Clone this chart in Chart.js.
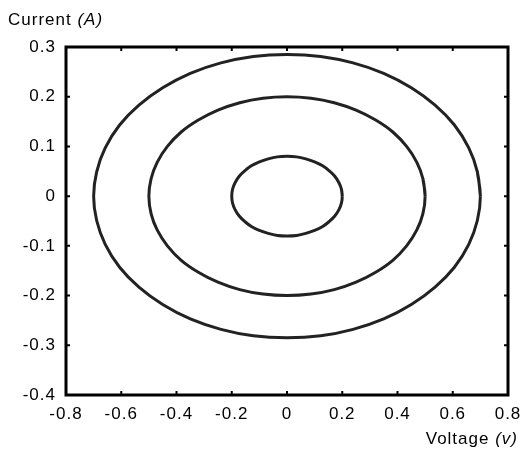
<!DOCTYPE html>
<html>
<head>
<meta charset="utf-8">
<script src="https://cdn.jsdelivr.net/npm/chart.js@4/dist/chart.umd.min.js"></script>
<style>
html,body{margin:0;padding:0;background:#fff;}
#wrap{position:relative;width:521px;height:450px;}
</style>
</head>
<body>
<div id="wrap"><canvas id="c" width="521" height="450"></canvas></div>
<script>
// Axis tick labels
const xTicks = [-0.8, -0.6, -0.4, -0.2, 0, 0.2, 0.4, 0.6, 0.8];
const yTicks = [-0.4, -0.3, -0.2, -0.1, 0, 0.1, 0.2, 0.3];

// Outer loop
const outerX = [0.7,0.689,0.658,0.606,0.536,0.45,0.35,0.239,0.122,0,-0.122,-0.239,-0.35,-0.45,-0.536,-0.606,-0.658,-0.689,-0.7,-0.689,-0.658,-0.606,-0.536,-0.45,-0.35,-0.239,-0.122,0,0.122,0.239,0.35,0.45,0.536,0.606,0.658,0.689,0.7,0.689];
const outerY = [0,0.049,0.097,0.143,0.183,0.218,0.247,0.268,0.281,0.285,0.281,0.268,0.247,0.218,0.183,0.143,0.097,0.049,0,-0.049,-0.097,-0.143,-0.183,-0.218,-0.247,-0.268,-0.281,-0.285,-0.281,-0.268,-0.247,-0.218,-0.183,-0.143,-0.097,-0.049,0,0.049];

// Middle loop
const midX = [0.5,0.492,0.47,0.433,0.383,0.321,0.25,0.171,0.087,0,-0.087,-0.171,-0.25,-0.321,-0.383,-0.433,-0.47,-0.492,-0.5,-0.492,-0.47,-0.433,-0.383,-0.321,-0.25,-0.171,-0.087,0,0.087,0.171,0.25,0.321,0.383,0.433,0.47,0.492,0.5,0.492];
const midY = [0,0.035,0.068,0.1,0.129,0.153,0.173,0.188,0.197,0.2,0.197,0.188,0.173,0.153,0.129,0.1,0.068,0.035,0,-0.035,-0.068,-0.1,-0.129,-0.153,-0.173,-0.188,-0.197,-0.2,-0.197,-0.188,-0.173,-0.153,-0.129,-0.1,-0.068,-0.035,0,0.035];

// Inner loop
const innerX = [0.2,0.197,0.188,0.173,0.153,0.129,0.1,0.068,0.035,0,-0.035,-0.068,-0.1,-0.129,-0.153,-0.173,-0.188,-0.197,-0.2,-0.197,-0.188,-0.173,-0.153,-0.129,-0.1,-0.068,-0.035,0,0.035,0.068,0.1,0.129,0.153,0.173,0.188,0.197,0.2,0.197];
const innerY = [0,0.014,0.027,0.04,0.051,0.061,0.069,0.075,0.079,0.08,0.079,0.075,0.069,0.061,0.051,0.04,0.027,0.014,0,-0.014,-0.027,-0.04,-0.051,-0.061,-0.069,-0.075,-0.079,-0.08,-0.079,-0.075,-0.069,-0.061,-0.051,-0.04,-0.027,-0.014,0,0.014];

const xTitle = ["Voltage ", "(v)"];
const yTitle = ["Current ", "(A)"];

function pts(xs, ys){ return xs.map((x,i)=>({x:x, y:ys[i]})); }

const lineColor = '#222';
function ds(xs, ys){
  return {data: pts(xs, ys), showLine: true, borderColor: lineColor, borderWidth: 3,
          pointRadius: 0, tension: 0.4, fill: false};
}

const FONT = 'Liberation Sans, Arial, Helvetica, sans-serif';

const spacingPlugin = {
  id: 'spacing',
  beforeDraw(chart){ chart.ctx.letterSpacing = '1px'; }
};

const framePlugin = {
  id: 'frame',
  afterDraw(chart){
    const ctx = chart.ctx, a = chart.chartArea;
    const xs = chart.scales.x, ys = chart.scales.y;
    ctx.save();
    ctx.strokeStyle = '#000';
    ctx.lineWidth = 3;
    ctx.strokeRect(a.left, a.top, a.right - a.left, a.bottom - a.top);
    ctx.lineWidth = 2;
    ctx.beginPath();
    xTicks.forEach(v => {
      const p = xs.getPixelForValue(v);
      ctx.moveTo(p, a.bottom); ctx.lineTo(p, a.bottom - 4);
      ctx.moveTo(p, a.top); ctx.lineTo(p, a.top + 4);
    });
    yTicks.forEach(v => {
      const p = ys.getPixelForValue(v);
      ctx.moveTo(a.left, p); ctx.lineTo(a.left + 4, p);
      ctx.moveTo(a.right, p); ctx.lineTo(a.right - 4, p);
    });
    ctx.stroke();
    // axis titles
    ctx.fillStyle = '#000';
    ctx.textBaseline = 'alphabetic';
    ctx.textAlign = 'left';
    ctx.letterSpacing = '1px';
    ctx.font = '17px ' + FONT;
    let w1 = ctx.measureText(yTitle[0]).width;
    ctx.fillText(yTitle[0], 8, 25);
    ctx.font = 'italic 17px ' + FONT;
    ctx.fillText(yTitle[1], 8 + w1, 25);
    ctx.font = '17px ' + FONT;
    let wa = ctx.measureText(xTitle[0]).width;
    ctx.font = 'italic 17px ' + FONT;
    let wb = ctx.measureText(xTitle[1]).width;
    const right = 518;
    ctx.font = '17px ' + FONT;
    ctx.fillText(xTitle[0], right - wa - wb, 444);
    ctx.font = 'italic 17px ' + FONT;
    ctx.fillText(xTitle[1], right - wb, 444);
    ctx.restore();
  }
};

new Chart(document.getElementById('c'), {
  type: 'scatter',
  data: { datasets: [ds(outerX, outerY), ds(midX, midY), ds(innerX, innerY)] },
  options: {
    responsive: false,
    animation: false,
    layout: { padding: { top: 47, right: 13, left: 0, bottom: 0 } },
    plugins: { legend: { display: false }, tooltip: { enabled: false } },
    scales: {
      x: {
        type: 'linear', min: -0.8, max: 0.8,
        afterBuildTicks(s){ s.ticks = xTicks.map(v => ({value: v})); },
        afterFit(s){ s.height = 55; s.paddingLeft = 0; s.paddingRight = 0; },
        grid: { display: false, drawTicks: false },
        border: { display: false },
        ticks: { color: '#000', font: { size: 17, family: FONT }, padding: 9,
                 maxRotation: 0, autoSkip: false,
                 callback: v => String(Math.round(v*10)/10) }
      },
      y: {
        type: 'linear', min: -0.4, max: 0.3,
        afterBuildTicks(s){ s.ticks = yTicks.map(v => ({value: v})); },
        afterFit(s){ s.width = 66; s.paddingTop = 0; s.paddingBottom = 0; },
        grid: { display: false, drawTicks: false },
        border: { display: false },
        ticks: { color: '#000', font: { size: 17, family: FONT }, padding: 10,
                 autoSkip: false,
                 callback: v => String(Math.round(v*10)/10) }
      }
    }
  },
  plugins: [spacingPlugin, framePlugin]
});
</script>
</body>
</html>
